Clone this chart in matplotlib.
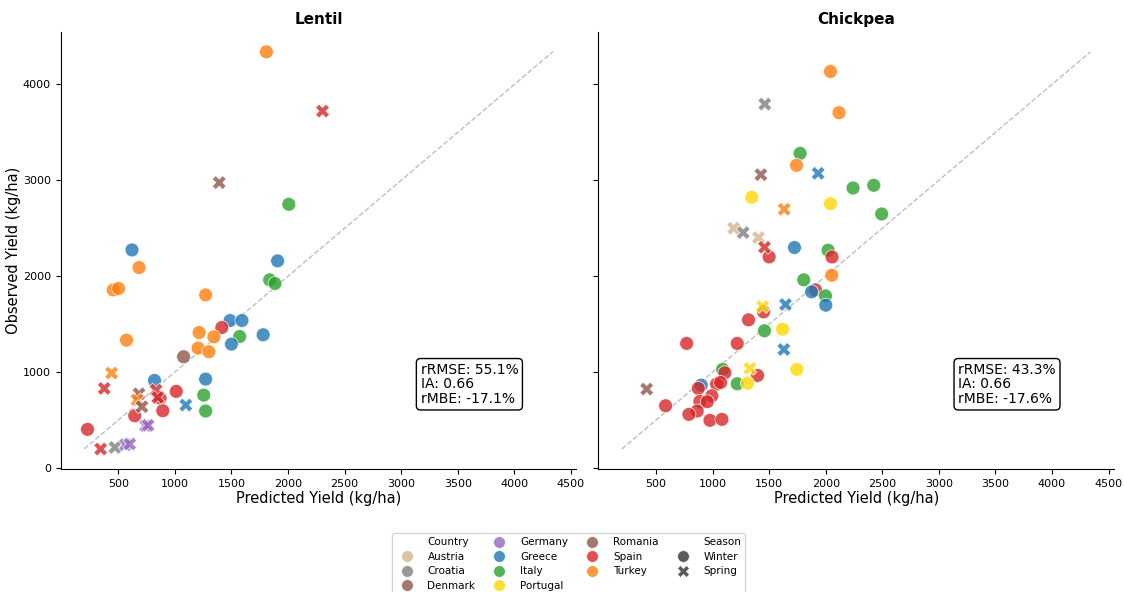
import matplotlib
matplotlib.use('Agg')
import matplotlib.pyplot as plt
from matplotlib.lines import Line2D
import numpy as np

countries = ['Austria', 'Croatia', 'Denmark', 'Germany', 'Greece',
             'Italy', 'Portugal', 'Romania', 'Spain', 'Turkey']
palette = {'Austria': '#d2b48c', 'Croatia': '#7f7f7f', 'Denmark': '#8c564b',
           'Germany': '#9467bd', 'Greece': '#1f77b4', 'Italy': '#2ca02c',
           'Portugal': '#ffd700', 'Romania': '#8c564b', 'Spain': '#d62728',
           'Turkey': '#ff7f0e'}
seasons = ['Winter', 'Spring']
markers = {'Winter': 'o', 'Spring': 'X'}

# Lentil
lentil_pred = [621, 683, 455, 502, 1908, 1838, 1885, 1272, 1488, 1593, 1415, 1214,
               1345, 1573, 1500, 1780, 572, 1205, 1301, 1077, 1272, 820, 1012, 1255,
               1272, 869, 893, 645, 228, 1809, 2007,
               441, 376, 834, 849, 1097, 683, 665, 709, 741, 763, 344, 470, 563, 601,
               1392, 2305]
lentil_obs = [2274, 2090, 1857, 1872, 2160, 1962, 1924, 1805, 1538, 1538, 1465, 1413,
              1368, 1371, 1292, 1389, 1333, 1250, 1212, 1160, 927, 913, 799, 760,
              594, 729, 597, 545, 403, 4340, 2750,
              990, 830, 812, 736, 656, 774, 711, 639, 441, 445, 198, 215, 243, 250,
              2976, 3722]
lentil_country = ['Greece', 'Turkey', 'Turkey', 'Turkey', 'Greece', 'Italy', 'Italy',
                  'Turkey', 'Greece', 'Greece', 'Spain', 'Turkey', 'Turkey', 'Italy',
                  'Greece', 'Greece', 'Turkey', 'Turkey', 'Turkey', 'Romania', 'Greece',
                  'Greece', 'Spain', 'Italy', 'Italy', 'Spain', 'Spain', 'Spain',
                  'Spain', 'Turkey', 'Italy',
                  'Turkey', 'Spain', 'Spain', 'Spain', 'Greece', 'Denmark', 'Turkey',
                  'Denmark', 'Germany', 'Germany', 'Spain', 'Croatia', 'Germany',
                  'Germany', 'Denmark', 'Spain']
lentil_season = ['Winter'] * 31 + ['Spring'] * 16

# Chickpea
chickpea_pred = [2042, 2118, 1774, 1742, 2242, 2425, 1347, 2042, 2495, 1724, 1500, 2021,
                 2056, 2054, 1806, 1910, 1875, 1998, 2001, 1451, 1318, 1459, 1618, 771,
                 1218, 1745, 1089, 1109, 1398, 1218, 1309, 1036, 1071, 900, 874, 994,
                 888, 953, 585, 864, 791, 977, 1083,
                 1462, 1933, 1427, 1633, 1186, 1271, 1406, 1459, 1442, 1645, 1630,
                 1330, 418]
chickpea_obs = [4135, 3705, 3281, 3156, 2920, 2948, 2823, 2757, 2649, 2299, 2201, 2271,
                2201, 2010, 1962, 1857, 1837, 1795, 1698, 1628, 1545, 1431, 1448, 1299,
                1299, 1028, 1028, 993, 965, 878, 885, 875, 892, 864, 830, 753,
                695, 691, 649, 594, 559, 497, 507,
                3795, 3073, 3059, 2698, 2500, 2455, 2403, 2302, 1684, 1705, 1236,
                1038, 823]
chickpea_country = ['Turkey', 'Turkey', 'Italy', 'Turkey', 'Italy', 'Italy', 'Portugal',
                    'Portugal', 'Italy', 'Greece', 'Spain', 'Italy', 'Spain', 'Turkey',
                    'Italy', 'Spain', 'Greece', 'Italy', 'Greece', 'Spain', 'Spain',
                    'Italy', 'Portugal', 'Spain', 'Spain', 'Portugal', 'Italy', 'Spain',
                    'Spain', 'Italy', 'Portugal', 'Spain', 'Spain', 'Greece', 'Spain',
                    'Spain', 'Spain', 'Spain', 'Spain', 'Spain', 'Spain', 'Spain', 'Spain',
                    'Croatia', 'Greece', 'Denmark', 'Turkey', 'Austria', 'Croatia',
                    'Austria', 'Spain', 'Portugal', 'Greece', 'Greece', 'Portugal',
                    'Denmark']
chickpea_season = ['Winter'] * 43 + ['Spring'] * 13

stats = {'Lentil': ('55.1%', '0.66', '-17.1%'),
         'Chickpea': ('43.3%', '0.66', '-17.6%')}

crops = [('Lentil', lentil_pred, lentil_obs, lentil_country, lentil_season),
         ('Chickpea', chickpea_pred, chickpea_obs, chickpea_country, chickpea_season)]

all_vals = lentil_pred + lentil_obs + chickpea_pred + chickpea_obs
lims = [min(all_vals), max(all_vals)]

fig, axes = plt.subplots(1, 2, figsize=(11.24, 5.92), dpi=100, sharex=True, sharey=True)
fig.subplots_adjust(left=0.054, right=0.991, top=0.946, bottom=0.208, wspace=0.043)

for ax, (name, pred, obs, country, season) in zip(axes, crops):
    pred = np.array(pred)
    obs = np.array(obs)
    for s in seasons:
        idx = [i for i in range(len(pred)) if season[i] == s]
        ax.scatter(pred[idx], obs[idx], c=[palette[country[i]] for i in idx],
                   marker=markers[s], s=100, alpha=0.8, edgecolors='white',
                   linewidths=0.6, zorder=3)
    ax.plot(lims, lims, '--', color='gray', alpha=0.5, linewidth=1, zorder=2)
    ax.set_title(name, fontsize=11, fontweight='bold')
    ax.set_xlabel('Predicted Yield (kg/ha)', fontsize=10.5, labelpad=2)
    ax.spines['top'].set_visible(False)
    ax.spines['right'].set_visible(False)
    ax.tick_params(labelsize=8)
    r, ia, mbe = stats[name]
    ax.text(0.698, 0.243, f'rRMSE: {r}\nIA: {ia}\nrMBE: {mbe}', transform=ax.transAxes,
            fontsize=10, va='top', ha='left', linespacing=1.05,
            bbox=dict(boxstyle='round,pad=0.3', facecolor='white', edgecolor='black'))

axes[0].set_ylabel('Observed Yield (kg/ha)', fontsize=10.5, labelpad=1)
axes[0].set_xticks(np.arange(500, 4501, 500))
axes[0].set_yticks(np.arange(0, 4001, 1000))

# legend like seaborn's: titles as blank entries
blank = Line2D([], [], linestyle='none')
handles = [blank]
labels = ['Country']
for c in countries:
    handles.append(Line2D([], [], marker='o', linestyle='none', markersize=8.5,
                          markerfacecolor=palette[c], markeredgecolor='white',
                          markeredgewidth=0.6, alpha=0.8))
    labels.append(c)
handles.append(blank)
labels.append('Season')
for s in seasons:
    handles.append(Line2D([], [], marker=markers[s], linestyle='none', markersize=8.5,
                          markerfacecolor='#333333', markeredgecolor='white',
                          markeredgewidth=0.6, alpha=0.8))
    labels.append(s)

fig.legend(handles, labels, loc='upper center', bbox_to_anchor=(0.506, 0.108), ncol=4,
           fontsize=7.5, frameon=True, handletextpad=1.0, columnspacing=1.3,
           labelspacing=0.42, borderpad=0.4)

fig.savefig('out.png', dpi=100)
